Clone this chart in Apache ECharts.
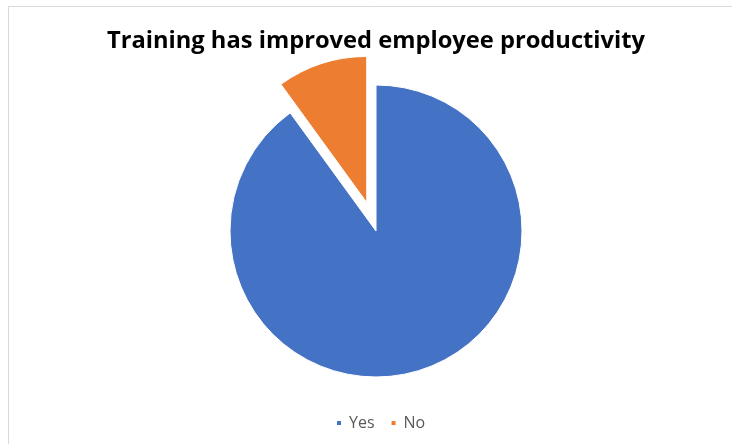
<!DOCTYPE html>
<html>
<head>
<meta charset="utf-8">
<script src="https://cdn.jsdelivr.net/npm/echarts@6/dist/echarts.min.js"></script>
<style>html,body{margin:0;padding:0;background:#fff}#c{width:732px;height:444px}</style>
</head>
<body>
<div id="c"></div>
<script>
const titleText = 'Training has improved employee productivity';
const categories = ['Yes', 'No'];
const values = [90, 10];
const colors = ['#4472C4', '#ED7D31'];

const chart = echarts.init(document.getElementById('c'), null, {renderer: 'canvas'});
chart.setOption({
  backgroundColor: '#ffffff',
  animation: false,
  graphic: [{
    type: 'rect',
    shape: {x: 8.5, y: 6.5, width: 740, height: 450},
    style: {fill: 'none', stroke: '#d9d9d9', lineWidth: 1},
    silent: true
  }],
  title: {
    text: titleText,
    left: 371,
    textAlign: 'center',
    top: 24,
    textStyle: {fontFamily: 'Open Sans', fontWeight: 'bold', fontSize: 23.7, color: '#000000'}
  },
  legend: {
    data: categories,
    top: 410,
    left: 330,
    icon: 'rect',
    itemWidth: 6,
    itemHeight: 6,
    itemGap: 15,
    textStyle: {fontFamily: 'Open Sans', fontSize: 16, color: '#595959', padding: [0, 0, 0, 2]},
    selectedMode: false
  },
  series: [{
    type: 'pie',
    center: [376, 231],
    radius: 146,
    startAngle: 90,
    clockwise: true,
    selectedMode: 'single',
    selectedOffset: 30,
    label: {show: false},
    labelLine: {show: false},
    emphasis: {disabled: true},
    itemStyle: {borderColor: '#ffffff', borderWidth: 1},
    data: categories.map((name, i) => ({
      name: name,
      value: values[i],
      selected: name === 'No',
      itemStyle: {color: colors[i]}
    }))
  }]
});
</script>
</body>
</html>
